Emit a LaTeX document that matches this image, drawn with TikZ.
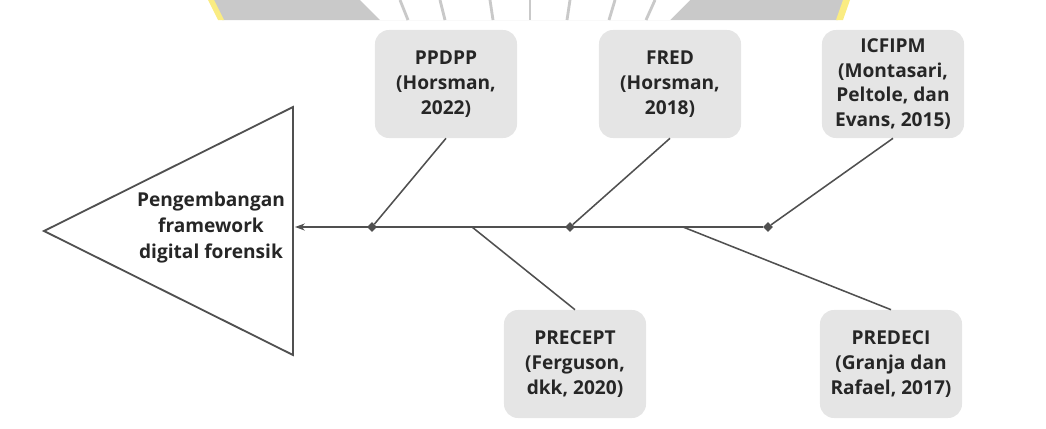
\documentclass[tikz,border=0pt]{standalone}
\usepackage{fontspec}
\setmainfont{Open Sans}
\usepackage{tikz}
\usetikzlibrary{arrows.meta,shapes,positioning}
\definecolor{fbline}{RGB}{80,80,80}
\definecolor{fbbox}{RGB}{229,229,229}
\definecolor{wmgrey}{RGB}{201,201,201}
\definecolor{wmyellow}{RGB}{250,236,130}
\tikzstyle{arrow} = [-{Stealth[length=7pt,width=5pt]},line width=1.1pt,color=fbline]
\tikzstyle{bone} = [line width=1.1pt,color=fbline]
\tikzstyle{cause} = [rectangle, rounded corners=0.35cm, minimum width=3.55cm, minimum height=2.7cm, text centered, align=center, fill=fbbox, text=black!85, font=\fontsize{13.6}{17.6}\selectfont\bfseries]
\tikzstyle{joint} = [diamond, fill=fbline, inner sep=0pt, minimum size=7pt]

\begin{document}
\begin{tikzpicture}[x=0.025cm, y=-0.025cm]
\useasboundingbox (0,0) rectangle (1046,428);

% Watermark (cut off at top)
\fill[wmgrey] (212,0) -- (845,0) -- (838,20) -- (222,20) -- cycle;
\fill[wmyellow] (208,0) -- (214,0) -- (224,20) -- (218,20) -- cycle;
\fill[wmyellow] (843,0) -- (850,0) -- (843,20) -- (836,20) -- cycle;
\fill[white] (360,0) -- (690,0) -- (670,20) -- (380,20) -- cycle;
\foreach \x/\d in {400/8, 440/5, 490/3, 530/0, 570/-3, 615/-6, 655/-9}
  \draw[wmgrey, line width=2pt] (\x,0) -- (\x+\d,20);

% Head
\draw[bone, line width=1.3pt] (44,231) -- (293,107) -- (293,355) -- cycle;
\node[align=center, text=black!85, font=\fontsize{13.6}{18.5}\selectfont\bfseries] (goal) at (211,228) {Pengembangan\\framework\\digital forensik};

% Causes
\node[cause] (ppdpp) at (446,84) {PPDPP\\(Horsman,\\2022)};
\node[cause] (fred) at (670,84) {FRED\\(Horsman,\\2018)};
\node[cause] (icfipm) at (893,84) {ICFIPM\\(Montasari,\\Peltole, dan\\Evans, 2015)};
\node[cause] (precept) at (575,364) {PRECEPT\\(Ferguson,\\dkk, 2020)};
\node[cause] (predeci) at (891,364) {PREDECI\\(Granja dan\\Rafael, 2017)};

% Spine
\coordinate (head) at (295,227);
\coordinate (j1) at (472,227);
\coordinate (j2) at (683,227);
\node[joint] (d1) at (372,227) {};
\node[joint] (d2) at (570,227) {};
\node[joint] (d3) at (768,227) {};
\draw[arrow] (d3) -- (head);

% Bones
\draw[bone] (d1) -- (ppdpp.south);
\draw[bone] (d2) -- (fred.south);
\draw[bone] (d3) -- (icfipm.south);
\draw[bone] (j1) -- (precept.north);
\draw[bone] (j2) -- (predeci.north);
\end{tikzpicture}
\end{document}
